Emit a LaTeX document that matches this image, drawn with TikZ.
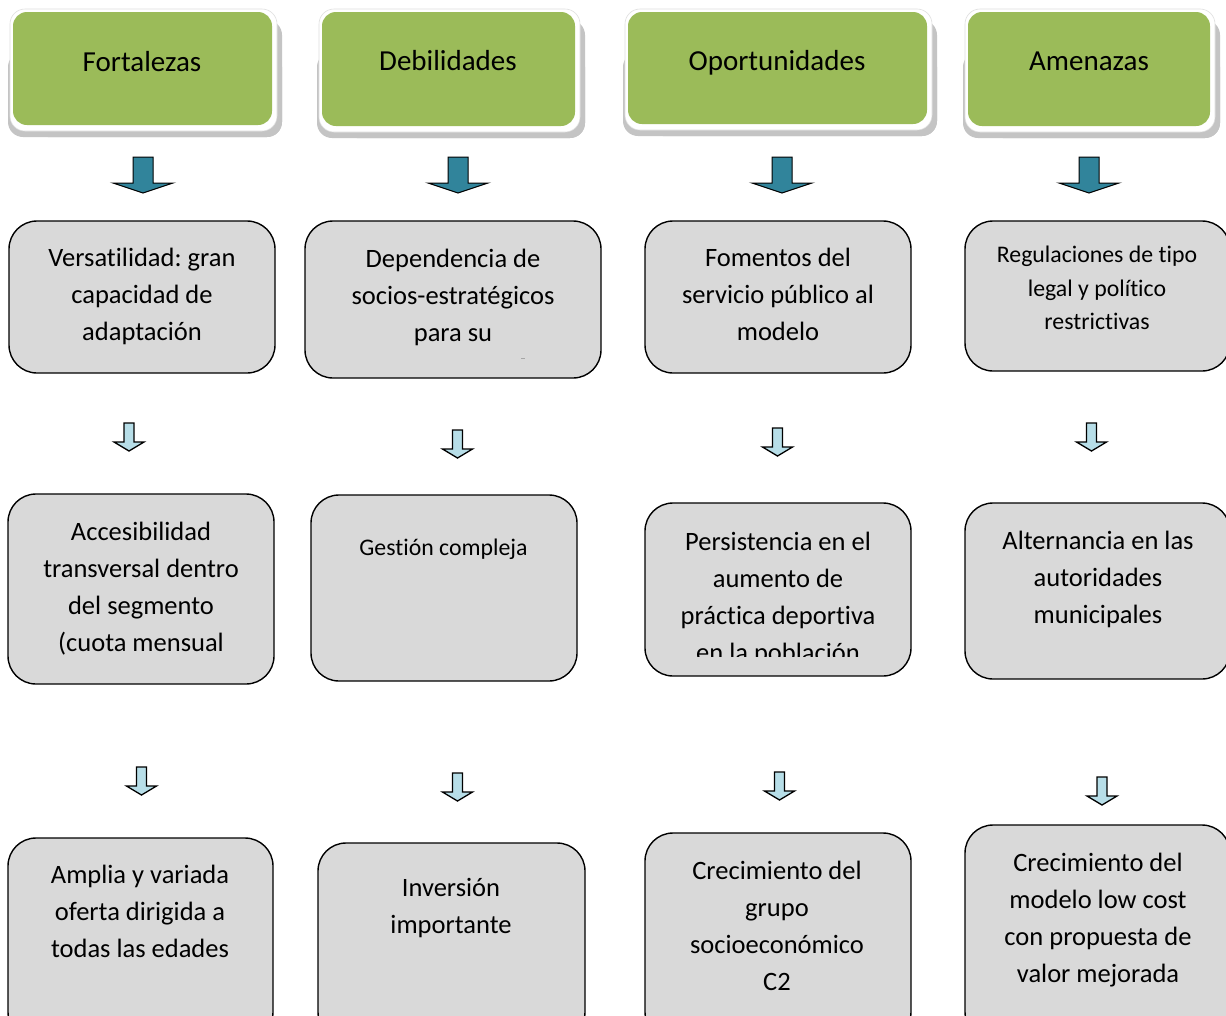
\documentclass[tikz,border=0pt]{standalone}
\usepackage{fontspec}
\setmainfont{Carlito}[Ligatures=NoCommon]
\frenchspacing
\usetikzlibrary{calc}
\definecolor{hdrgreen}{HTML}{9BBB59}
\definecolor{boxgray}{HTML}{D9D9D9}
\definecolor{darkteal}{HTML}{31849B}
\definecolor{lightblue}{HTML}{B7DEE8}
\definecolor{shadowgray}{HTML}{C4C4C4}
\newcommand{\hdrshadow}[4]{%
  \fill[shadowgray, rounded corners=15pt] (#1-5,#2+40) rectangle (#3+10,#4+12);
  \fill[shadowgray, rounded corners=15pt] (#1+20,#2+8) rectangle (#3+10,#4+12);
  \fill[white, rounded corners=15pt] (#1-3,#2-3) rectangle (#3+5,#4+6);
  \draw[gray!25, line width=0.6pt, rounded corners=15pt] (#1-3,#2-3) rectangle (#3+5,#4+6);}
\begin{document}
\begin{tikzpicture}[x=1pt,y=-1pt,
  hdrbox/.style={fill=hdrgreen, rounded corners=14pt, inner sep=0pt},
  hdrtext/.style={font=\fontsize{29}{34}\selectfont, anchor=base, inner sep=0pt},
  gbox/.style={fill=boxgray, draw=black, line width=1.4pt, rounded corners=28pt, inner sep=0pt},
  btext/.style={font=\fontsize{26.5}{37}\selectfont, align=center, inner sep=0pt},
  stext/.style={font=\fontsize{23.8}{33.5}\selectfont, align=center, inner sep=0pt},
  bigarr/.pic={\draw[fill=darkteal, line width=1pt, line join=miter]
     (-10,0) -- (10,0) -- (10,26) -- (30,26) -- (0,36) -- (-30,26) -- (-10,26) -- cycle;},
  smallarr/.pic={\draw[fill=lightblue, line width=1.3pt, line join=miter]
     (-5,0) -- (5,0) -- (5,19) -- (15,19) -- (0,28) -- (-15,19) -- (-5,19) -- cycle;}
]
\fill[white] (0,0) rectangle (1226,1015);
\clip (0,0) rectangle (1226,1015);

% ---------- headers ----------
\hdrshadow{13}{12}{272}{125}
\hdrshadow{322}{12}{575}{126}
\hdrshadow{628}{12}{927}{124}
\hdrshadow{968}{12}{1210}{126}
\node[hdrbox, minimum width=259pt, minimum height=113pt] (h1) at (142.5,68.5) {};
\node[hdrbox, minimum width=253pt, minimum height=114pt] (h2) at (448.5,69) {};
\node[hdrbox, minimum width=299pt, minimum height=112pt] (h3) at (777.5,68) {};
\node[hdrbox, minimum width=242pt, minimum height=114pt] (h4) at (1089,69) {};
\node[hdrtext] (h1t) at (142,71.5) {Fortalezas};
\node[hdrtext] (h2t) at (448,70.5) {Debilidades};
\node[hdrtext] (h3t) at (777,70.5) {Oportunidades};
\node[hdrtext] (h4t) at (1089,70.5) {Amenazas};

% ---------- big arrows ----------
\pic at (143,157) {bigarr};
\pic at (458,157) {bigarr};
\pic at (782,157) {bigarr};
\pic at (1089,157) {bigarr};

% ---------- row 1 ----------
\node[gbox, minimum width=266pt, minimum height=152pt] (a1) at (142,297) {};
\node[gbox, minimum width=296pt, minimum height=157pt] (b1) at (453,299.5) {};
\node[gbox, minimum width=266pt, minimum height=152pt] (c1) at (778,297) {};
\node[gbox, minimum width=265pt, minimum height=150pt] (d1) at (1097.5,296) {};
\node[btext] (a1t) at (142,296) {\strut Versatilidad: gran\\\strut capacidad de\\\strut adaptación};
\node[btext] (b1t) at (453,297) {\strut Dependencia de\\\strut socios-estratégicos\\\strut para su};
\draw[gray!70, line width=0.8pt] (521,358) -- (525,358);
\node[btext] (c1t) at (778,296) {\strut Fomentos del\\\strut servicio público al\\\strut modelo};
\node[stext] (d1t) at (1097,289.5) {\strut Regulaciones de tipo\\\strut legal y político\\\strut restrictivas};

% ---------- small arrows row 1 ----------
\pic at (129,423) {smallarr};
\pic at (457.5,430) {smallarr};
\pic at (777.5,428) {smallarr};
\pic at (1091.5,423) {smallarr};

% ---------- row 2 ----------
\node[gbox, minimum width=266pt, minimum height=190pt] (a2) at (141,589) {};
\node[gbox, minimum width=266pt, minimum height=186pt] (b2) at (444,588) {};
\node[gbox, minimum width=266pt, minimum height=173pt] (c2) at (778,589.5) {};
\node[gbox, minimum width=265pt, minimum height=176pt] (d2) at (1097.5,591) {};
\node[btext] (a2t) at (141,589) {\strut Accesibilidad\\\strut transversal dentro\\\strut del segmento\\\strut (cuota mensual};
\node[stext] (b2t) at (443.5,548.5) {\strut Gestión compleja};
\begin{scope}
  \clip (645,503) rectangle (911,656);
  \node[btext] (c2t) at (778,599) {\strut Persistencia en el\\\strut aumento de\\\strut práctica deportiva\\\strut en la población};
\end{scope}
\node[btext] (d2t) at (1098,579) {\strut Alternancia en las\\\strut autoridades\\\strut municipales};

% ---------- small arrows row 2 ----------
\pic at (141.5,767) {smallarr};
\pic at (457.5,773) {smallarr};
\pic at (779.5,772) {smallarr};
\pic at (1102,777) {smallarr};

% ---------- row 3 ----------
\node[gbox, minimum width=265pt, minimum height=202pt] (a3) at (140.5,939) {};
\node[gbox, minimum width=267pt, minimum height=197pt] (b3) at (451.5,941.5) {};
\node[gbox, minimum width=266pt, minimum height=207pt] (c3) at (778,936.5) {};
\node[gbox, minimum width=265pt, minimum height=215pt] (d3) at (1097.5,932.5) {};
\node[btext] (a3t) at (140,913) {\strut Amplia y variada\\\strut oferta dirigida a\\\strut todas las edades};
\node[btext] (b3t) at (451,908) {\strut Inversión\\\strut importante};
\node[btext] (c3t) at (777,928) {\strut Crecimiento del\\\strut grupo\\\strut socioeconómico\\\strut C2};
\node[btext] (d3t) at (1098,920) {\strut Crecimiento del\\\strut modelo low cost\\\strut con propuesta de\\\strut valor mejorada};
\end{tikzpicture}
\end{document}
